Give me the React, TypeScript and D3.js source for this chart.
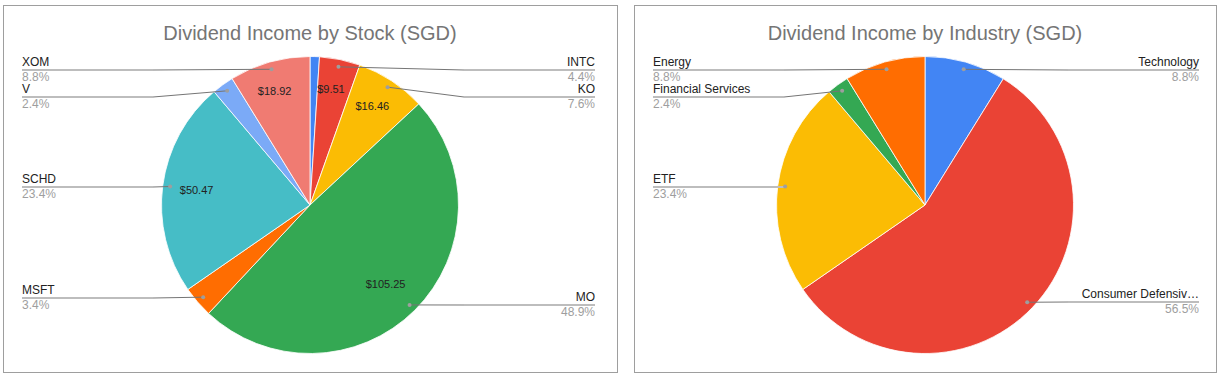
import React from "react";
import * as d3 from "d3";

// ---- Data ----
const stockNames = ["AAPL", "INTC", "KO", "MO", "MSFT", "SCHD", "V", "XOM"];
const stockValues = [2.2, 9.51, 16.46, 105.25, 7.32, 50.47, 5.16, 18.92];
const stockColors = ["#4285f4", "#ea4335", "#fbbc04", "#34a853", "#ff6d01", "#46bdc6", "#7baaf7", "#f07b72"];
const stockShowLabel = [false, true, true, true, true, true, true, true];
const stockShowValue = [false, true, true, true, false, true, false, true];

const industryNames = ["Technology", "Consumer Defensive", "ETF", "Financial Services", "Energy"];
const industryValues = [19.03, 121.71, 50.47, 5.16, 18.92];
const industryColors = ["#4285f4", "#ea4335", "#fbbc04", "#34a853", "#ff6d01"];

const stockTitle = "Dividend Income by Stock (SGD)";
const industryTitle = "Dividend Income by Industry (SGD)";

type PieProps = {
  x0: number;
  width: number;
  rightPad: number;
  title: string;
  names: string[];
  values: number[];
  colors: string[];
  showLabel: boolean[];
  showValue: boolean[];
  labelY: Record<string, number>;
};

const FONT = "Arial, 'Liberation Sans', sans-serif";

function truncate(s: string, onRight: boolean) {
  return onRight && s.length > 17 ? s.slice(0, 17) + "…" : s;
}

function PieChart({ x0, width, rightPad, title, names, values, colors, showLabel, showValue, labelY }: PieProps) {
  const cx = x0 + width / 2;
  const cy = 205;
  const r = 148.5;
  const total = d3.sum(values);
  const pie = d3.pie<number>().sort(null).value((d) => d);
  const arcs = pie(values);
  const arcGen = d3.arc<d3.PieArcDatum<number>>().innerRadius(0).outerRadius(r);
  const fmtPct = (v: number) => (v / total * 100).toFixed(1) + "%";

  const leftX = x0 + 19;
  const rightX = x0 + width - rightPad;
  const bendLen = 131;

  return (
    <g>
      <rect x={x0 + 0.5} y={5.5} width={width} height={367} fill="#fff" stroke="#9e9e9e" strokeWidth={1} />
      <text x={cx} y={40} textAnchor="middle" fontFamily={FONT} fontSize={20} fill="#757575">
        {title}
      </text>
      <g transform={`translate(${cx},${cy})`}>
        {arcs.map((a, i) => (
          <path key={i} d={arcGen(a) || ""} fill={colors[i]} stroke="#fff" strokeWidth={0.8} />
        ))}
        {arcs.map((a, i) => {
          if (!showValue[i]) return null;
          const mid = (a.startAngle + a.endAngle) / 2;
          const frac = (a.endAngle - a.startAngle) / (2 * Math.PI);
          const rr = r * (frac < 0.1 ? 0.8 : 0.75);
          return (
            <text
              key={"v" + i}
              x={Math.sin(mid) * rr - (frac < 0.1 ? 3 : 3)}
              y={-Math.cos(mid) * rr}
              dy="0.35em"
              textAnchor="middle"
              fontFamily={FONT}
              fontSize={11}
              fill="#222"
            >
              {"$" + values[i].toFixed(2)}
            </text>
          );
        })}
      </g>
      {arcs.map((a, i) => {
        if (!showLabel[i]) return null;
        const mid = (a.startAngle + a.endAngle) / 2;
        const pr = r * 0.95;
        const px = cx + Math.sin(mid) * pr;
        const py = cy - Math.cos(mid) * pr;
        const ly = labelY[names[i]];
        const onRight = Math.sin(mid) > 0;
        const tx = onRight ? rightX : leftX;
        const bx = onRight ? rightX - bendLen : leftX + bendLen;
        const anchor = onRight ? "end" : "start";
        return (
          <g key={"l" + i}>
            <line x1={tx} x2={bx} y1={ly} y2={ly} stroke="#bdbdbd" strokeWidth={2} />
            <line x1={bx} x2={px} y1={ly} y2={py} stroke="#757575" strokeWidth={1} />
            <circle cx={px} cy={py} r={2} fill="#9e9e9e" />
            <text x={tx} y={ly - 4} textAnchor={anchor} fontFamily={FONT} fontSize={12} fill="#222">
              {truncate(names[i], onRight)}
            </text>
            <text x={tx} y={ly + 11} textAnchor={anchor} fontFamily={FONT} fontSize={12} fill="#9e9e9e">
              {fmtPct(values[i])}
            </text>
          </g>
        );
      })}
    </g>
  );
}

export default function App() {
  return (
    <svg
      width={1220}
      height={375}
      style={{ position: "absolute", left: 0, top: 0, background: "#fff" }}
    >
      <rect x={0} y={0} width={1220} height={375} fill="#fff" />
      <PieChart
        x0={3}
        width={614}
        rightPad={22}
        title={stockTitle}
        names={stockNames}
        values={stockValues}
        colors={stockColors}
        showLabel={stockShowLabel}
        showValue={stockShowValue}
        labelY={{ XOM: 70, V: 97, SCHD: 187, MSFT: 298, INTC: 70, KO: 97, MO: 305 }}
      />
      <PieChart
        x0={634}
        width={582}
        rightPad={17}
        title={industryTitle}
        names={industryNames}
        values={industryValues}
        colors={industryColors}
        showLabel={industryNames.map(() => true)}
        showValue={industryNames.map(() => false)}
        labelY={{ Technology: 70, "Consumer Defensive": 302, ETF: 187, "Financial Services": 97, Energy: 70 }}
      />
    </svg>
  );
}
